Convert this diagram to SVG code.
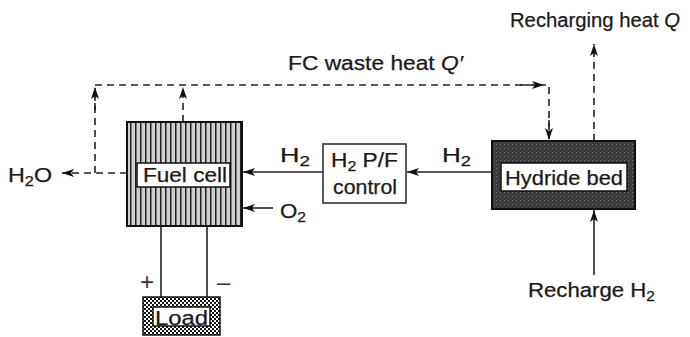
<svg xmlns="http://www.w3.org/2000/svg" width="690" height="337" viewBox="0 0 690 337">
<style>
text{font-family:"Liberation Sans",Arial,sans-serif;font-size:20px;fill:#1a1a1a;stroke:#1a1a1a;stroke-width:0.25}
.sub{font-size:14px}
.it{font-style:italic}
.pm{font-size:24px;fill:#333;stroke:none}
.ln{stroke:#222;stroke-width:1.6;fill:none}
.dash{stroke:#222;stroke-width:1.6;fill:none;stroke-dasharray:7,5}
</style>
<defs>
<marker id="ah" viewBox="0 0 12 8" refX="12" refY="4" markerWidth="12" markerHeight="8" markerUnits="userSpaceOnUse" orient="auto">
<path d="M0,0 L12,4 L0,8 L3,4 Z" fill="#111"/>
</marker>
<pattern id="stripes" width="5" height="10" patternUnits="userSpaceOnUse">
<rect width="5" height="10" fill="#cfcfcf"/>
<rect x="0" width="1.5" height="10" fill="#222"/>
</pattern>
<pattern id="speck" width="4" height="4" patternUnits="userSpaceOnUse">
<rect width="4" height="4" fill="#3a3a3a"/>
<rect x="0" y="0" width="1" height="1" fill="#777"/>
<rect x="2" y="2" width="1" height="1" fill="#555"/>
</pattern>
<pattern id="checks" width="4" height="4" patternUnits="userSpaceOnUse">
<rect width="4" height="4" fill="#fff"/>
<rect x="0" y="0" width="2" height="2" fill="#111"/>
<rect x="2" y="2" width="2" height="2" fill="#111"/>
</pattern>
</defs>

<g id="connectors">
<path class="dash" d="M127,173 H62" marker-end="url(#ah)"/>
<path class="dash" d="M95,173 V88"/>
<path class="dash" d="M95,110 V87" marker-end="url(#ah)"/>
<path class="dash" d="M95,85 H549 V138"/>
<path class="dash" d="M520,85 H544" marker-end="url(#ah)"/>
<path class="dash" d="M549,120 V140" marker-end="url(#ah)"/>
<path class="dash" d="M183,122 V87" marker-end="url(#ah)"/>
<path class="dash" d="M594,141 V44" marker-end="url(#ah)"/>
<path class="ln" d="M492,172 H407" marker-end="url(#ah)"/>
<path class="ln" d="M323,172 H243" marker-end="url(#ah)"/>
<path class="ln" d="M273,208 H243" marker-end="url(#ah)"/>
<path class="ln" d="M594,275 V210" marker-end="url(#ah)"/>
<path class="ln" d="M161,226 V297 M207,226 V297"/>
</g>

<g id="fuel-cell">
<rect x="127" y="122" width="115" height="104" fill="url(#stripes)" stroke="#111" stroke-width="2"/>
<rect x="137" y="163" width="93" height="24" fill="#fff" stroke="#111" stroke-width="1.5"/>
<text x="143" y="182" textLength="84" lengthAdjust="spacingAndGlyphs">Fuel cell</text>
</g>

<g id="control">
<rect x="323" y="144" width="83" height="59" fill="#fff" stroke="#333" stroke-width="1.6"/>
<text x="331" y="167" textLength="67" lengthAdjust="spacingAndGlyphs">H<tspan class="sub" dy="4">2</tspan><tspan dy="-4"> P/F</tspan></text>
<text x="333" y="194" textLength="64" lengthAdjust="spacingAndGlyphs">control</text>
</g>

<g id="hydride-bed">
<rect x="492" y="141" width="143" height="68" fill="url(#speck)" stroke="#111" stroke-width="2"/>
<rect x="501" y="163" width="126" height="28" fill="#fff" stroke="#111" stroke-width="1.5"/>
<text x="505" y="185" textLength="118" lengthAdjust="spacingAndGlyphs">Hydride bed</text>
</g>

<g id="load">
<rect x="143" y="297" width="77" height="38" fill="url(#checks)" stroke="#111" stroke-width="1.5"/>
<rect x="153" y="307" width="57" height="19" fill="#fff" stroke="#111" stroke-width="1.5"/>
<text x="155" y="325" textLength="53" lengthAdjust="spacingAndGlyphs">Load</text>
</g>

<g id="labels">
<text x="510" y="27" textLength="170" lengthAdjust="spacingAndGlyphs">Recharging heat <tspan class="it">Q</tspan></text>
<text x="288" y="70" textLength="175" lengthAdjust="spacingAndGlyphs">FC waste heat <tspan class="it">Q′</tspan></text>
<text x="8" y="182" textLength="44" lengthAdjust="spacingAndGlyphs">H<tspan class="sub" dy="4">2</tspan><tspan dy="-4">O</tspan></text>
<text x="280" y="162" textLength="30" lengthAdjust="spacingAndGlyphs">H<tspan class="sub" dy="4">2</tspan></text>
<text x="442" y="162" textLength="29" lengthAdjust="spacingAndGlyphs">H<tspan class="sub" dy="4">2</tspan></text>
<text x="280" y="218" textLength="26" lengthAdjust="spacingAndGlyphs">O<tspan class="sub" dy="4">2</tspan></text>
<text class="pm" x="140" y="290">+</text>
<text class="pm" x="217" y="290">–</text>
<text x="528" y="297" textLength="127" lengthAdjust="spacingAndGlyphs">Recharge H<tspan class="sub" dy="4">2</tspan></text>
</g>
</svg>
